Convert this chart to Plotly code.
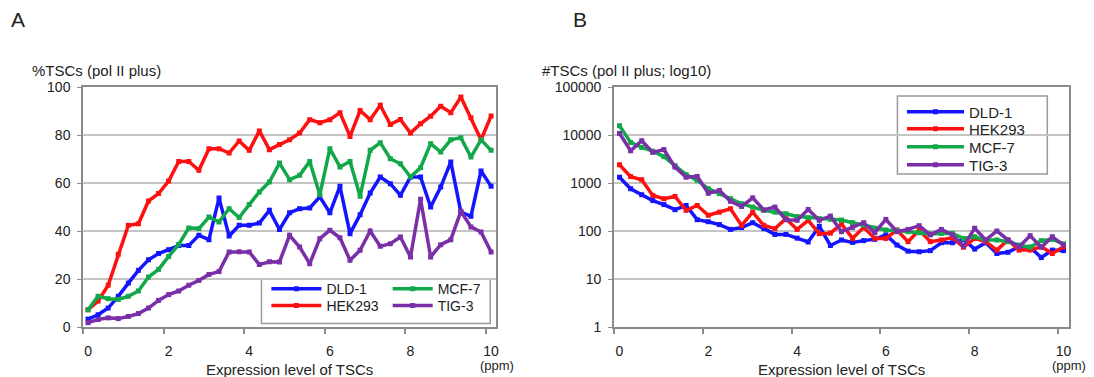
import plotly.graph_objects as go

# Expression level categories (ppm)
expr = [0.0, 0.25, 0.5, 0.75, 1.0, 1.25, 1.5, 1.75, 2.0, 2.25, 2.5, 2.75, 3.0, 3.25,
        3.5, 3.75, 4.0, 4.25, 4.5, 4.75, 5.0, 5.25, 5.5, 5.75, 6.0, 6.25, 6.5, 6.75,
        7.0, 7.25, 7.5, 7.75, 8.0, 8.25, 8.5, 8.75, 9.0, 9.25, 9.5, 9.75, 10.0]

series_names = ["DLD-1", "HEK293", "MCF-7", "TIG-3"]
series_colors = ["#1414ff", "#ff1010", "#12a84a", "#7a2fa8"]

# Panel A: %TSCs (pol II plus)
dld1_pct = [3.3, 5.1, 7.9, 12.8, 18.3, 23.6, 28.0, 30.6, 32.2, 34.0, 34.0, 38.2, 36.4, 53.7,
            37.9, 42.4, 42.4, 43.3, 48.6, 40.6, 47.6, 49.3, 49.6, 54.2, 47.6, 58.6, 38.9, 46.8,
            55.8, 62.5, 59.7, 54.9, 62.5, 62.5, 50.0, 58.3, 68.8, 47.9, 46.1, 65.0, 58.6]
hek_pct = [7.2, 10.8, 17.4, 30.3, 42.4, 43.0, 52.5, 55.6, 60.8, 69.0, 69.0, 65.3, 74.3, 74.3,
           72.5, 77.5, 73.6, 81.7, 73.9, 76.0, 78.0, 80.8, 86.4, 85.1, 86.4, 89.3, 79.4, 90.2,
           86.4, 92.4, 84.4, 86.5, 80.8, 84.7, 87.8, 92.0, 89.3, 95.8, 87.2, 78.0, 87.9]
mcf_pct = [7.2, 12.8, 11.8, 11.5, 12.8, 15.0, 20.8, 24.0, 29.4, 34.4, 41.3, 41.0, 45.8, 43.8,
           49.3, 45.6, 51.0, 56.3, 60.4, 68.3, 61.4, 63.2, 69.0, 55.1, 74.3, 66.7, 69.0, 54.5,
           73.6, 76.8, 70.1, 68.0, 62.5, 66.4, 76.4, 72.9, 78.0, 78.9, 70.8, 78.0, 73.6]
tig_pct = [1.8, 3.1, 3.8, 3.5, 4.4, 5.6, 7.9, 11.1, 13.5, 15.0, 17.4, 19.4, 21.9, 23.1,
           31.3, 31.4, 31.3, 26.0, 27.2, 27.1, 38.2, 33.3, 26.4, 36.8, 40.3, 37.2, 27.8, 32.0,
           40.0, 33.6, 34.7, 37.5, 29.2, 53.2, 29.2, 34.3, 36.4, 48.2, 41.7, 39.6, 31.3]

# Panel B: #TSCs (pol II plus), log scale
dld1_n = [1320, 760, 570, 430, 355, 278, 340, 172, 156, 136, 108, 118, 149, 112, 85, 85, 71,
          59, 125, 50, 65, 58, 63, 67, 83, 51, 38, 37, 39, 57, 57, 67, 42, 57, 34, 36, 47,
          46, 28, 40, 39]
hek_n = [2400, 1360, 1170, 550, 470, 525, 270, 340, 213, 247, 290, 131, 247, 131, 112, 180,
         108, 166, 88, 90, 140, 70, 119, 70, 70, 105, 60, 105, 60, 65, 73, 46, 70, 60, 40,
         65, 40, 40, 47, 34, 47]
mcf_n = [15600, 7000, 5500, 4600, 3550, 2300, 1500, 1130, 760, 600, 470, 370, 315, 270, 247,
         228, 200, 190, 180, 175, 169, 149, 133, 114, 105, 102, 97, 92, 87, 89, 89, 70, 76,
         65, 65, 60, 51, 46, 63, 67, 54]
tig_n = [10800, 4700, 7600, 4350, 4970, 2140, 1320, 1370, 610, 700, 415, 325, 490, 275, 315,
         172, 167, 280, 167, 205, 97, 119, 149, 92, 174, 97, 108, 129, 83, 108, 83, 49, 114,
         65, 100, 65, 47, 80, 46, 76, 51]

x_ticks = [0, 2, 4, 6, 8, 10]
x_tick_text = ["0", "2", "4", "6", "8", "10"]
x_minor = [-0.125, 1.875, 3.875, 5.875, 7.875, 9.875]
pct_ticks = [0, 20, 40, 60, 80, 100]
log_ticks = [1, 10, 100, 1000, 10000, 100000]
log_tick_text = ["1", "10", "100", "1000", "10000", "100000"]

FONT = "Liberation Sans, Arial, sans-serif"
GRID = "#c4c4c4"
LINE = "#8a8a8a"

fig = go.Figure()

pct_data = [dld1_pct, hek_pct, mcf_pct, tig_pct]
n_data = [dld1_n, hek_n, mcf_n, tig_n]

# one legend per entry so that entry spacing matches the original
left_legend_ids = ["legend", "legend2", "legend3", "legend4"]
right_legend_ids = ["legend5", "legend6", "legend7", "legend8"]

for name, color, ys, lg in zip(series_names, series_colors, pct_data, left_legend_ids):
    fig.add_trace(go.Scatter(
        x=expr, y=ys, name=name, mode="lines+markers",
        line=dict(color=color, width=3.5),
        marker=dict(symbol="square", size=5, color=color),
        xaxis="x", yaxis="y", legend=lg))

for name, color, ys, lg in zip(series_names, series_colors, n_data, right_legend_ids):
    fig.add_trace(go.Scatter(
        x=expr, y=ys, name=name, mode="lines+markers",
        line=dict(color=color, width=3.5),
        marker=dict(symbol="square", size=5, color=color),
        xaxis="x2", yaxis="y2", legend=lg))

xaxis_common = dict(
    range=[-0.125, 10.125], tickvals=x_ticks, ticktext=x_tick_text, ticks="",
    showgrid=False, zeroline=False, showline=True, mirror=True,
    linecolor=LINE, linewidth=1.5, ticklabelstandoff=10,
    tickfont=dict(family=FONT, size=14, color="#222"),
    minor=dict(tickvals=x_minor, ticks="outside", ticklen=5, tickcolor=LINE, tickwidth=1.5,
               showgrid=False),
)
yaxis_common = dict(
    showgrid=True, gridcolor=GRID, gridwidth=1.5, zeroline=False,
    showline=True, mirror=True, linecolor=LINE, linewidth=1.5,
    ticks="outside", ticklen=4, tickcolor=LINE, ticklabelstandoff=4,
    tickfont=dict(family=FONT, size=14, color="#222"),
)


def legend_box(x, y, itemwidth, size):
    return dict(
        x=x, y=y, itemwidth=itemwidth, bgcolor="rgba(0,0,0,0)", borderwidth=0,
        orientation="v", xanchor="left", yanchor="middle", itemclick=False,
        font=dict(family=FONT, size=size, color="#222"))


fig.update_layout(
    width=1094, height=377,
    margin=dict(l=83, r=25, t=87, b=50),
    paper_bgcolor="white", plot_bgcolor="white",
    font=dict(family=FONT, size=14, color="#222"),
    xaxis=dict(domain=[0, 0.419], anchor="y", **xaxis_common),
    yaxis=dict(domain=[0, 1], anchor="x", range=[0, 100], tickvals=pct_ticks, **yaxis_common),
    xaxis2=dict(domain=[0.5385, 1], anchor="y2", **xaxis_common),
    yaxis2=dict(domain=[0, 1], anchor="x2", type="log", range=[0, 5], tickvals=log_ticks,
                ticktext=log_tick_text, **yaxis_common),
    legend=legend_box(0.186, 0.158, 50, 14),
    legend2=legend_box(0.186, 0.088, 50, 14),
    legend3=legend_box(0.309, 0.158, 40, 14),
    legend4=legend_box(0.309, 0.088, 40, 14),
    legend5=legend_box(0.8306, 0.896, 57, 15),
    legend6=legend_box(0.8306, 0.825, 57, 15),
    legend7=legend_box(0.8306, 0.750, 57, 15),
    legend8=legend_box(0.8306, 0.675, 57, 15),
    showlegend=True,
)

# legend frames
fig.add_shape(type="rect", xref="paper", yref="paper", x0=0.181, x1=0.413, y0=0.015, y1=0.2,
              line=dict(color="#9a9a9a", width=1.5), fillcolor="rgba(0,0,0,0)", layer="below")
fig.add_shape(type="rect", xref="paper", yref="paper", x0=0.826, x1=0.978, y0=0.637, y1=0.962,
              line=dict(color="#9a9a9a", width=1.5), fillcolor="white", layer="below")

ann_font = dict(family=FONT, size=15, color="#222")
annotations = [
    dict(text="A", x=-0.075, y=1.28, font=dict(family=FONT, size=21, color="#222")),
    dict(text="B", x=0.495, y=1.28, font=dict(family=FONT, size=21, color="#222")),
    dict(text="%TSCs (pol II plus)", x=-0.054, y=1.07, font=ann_font),
    dict(text="#TSCs (pol II plus; log10)", x=0.4635, y=1.07, font=ann_font),
]
for a in annotations:
    a.update(xref="paper", yref="paper", xanchor="left", yanchor="middle", showarrow=False)
    fig.add_annotation(**a)

for xc in [0.209, 0.769]:
    fig.add_annotation(text="Expression level of TSCs", x=xc, y=-0.175, xref="paper",
                       yref="paper", xanchor="center", yanchor="middle", showarrow=False,
                       font=ann_font)
for xp in [0.42, 1.0]:
    fig.add_annotation(text="(ppm)", x=xp, y=-0.16, xref="paper", yref="paper",
                       xanchor="center", yanchor="middle", showarrow=False,
                       font=dict(family=FONT, size=13, color="#222"))

fig.write_html("out.html")
